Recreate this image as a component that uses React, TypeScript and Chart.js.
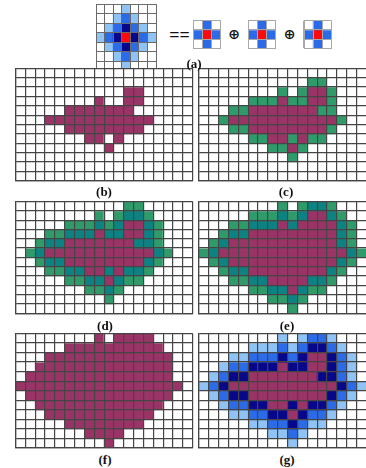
import React, { useEffect, useRef } from "react";
import { Chart, registerables } from "chart.js";

Chart.register(...registerables);

// ---------- data ----------
const GRID_COLUMNS = ["1", "2", "3", "4", "5", "6", "7", "8", "9", "10", "11", "12", "13", "14", "15", "16", "17", "18"];
const KERNEL_COLUMNS = ["1", "2", "3", "4", "5", "6", "7"];
const CROSS_COLUMNS = ["1", "2", "3"];

// ring level of every cell as shown in panel (g): 0 = seed region, 1..3 = rings, "." = empty
const LEVEL_MAP = [
  "........3.3223....",
  ".....3332321123...",
  "...3322212100123..",
  "..32211101100123..",
  ".321100000001123..",
  "32100000000000123.",
  ".321100000000123..",
  "..3221100101123...",
  "...33221101223....",
  ".....33221233.....",
  ".......3323.......",
  ".........3........",
];

// 7x7 kernel in (a): 0 = centre, 1..3 = distance
const KERNEL_MAP = [
  "...3...",
  "..323..",
  ".32123.",
  "3210123",
  ".32123.",
  "..323..",
  "...3...",
];

// 3x3 cross element in (a)
const CROSS_MAP = [".1.", "101", ".1."];

// ---------- colours ----------
const MAGENTA = "#9a3467";
const GREEN = "#2f9b6b";
const TEAL = "#0c8283";
const NAVY = "#07078c";
const BLUE = "#2c6be8";
const LIGHT = "#8fc3f6";
const RED = "#ff0a0a";

const PAL_B = { "0": MAGENTA };
const PAL_C = { "0": MAGENTA, "1": GREEN };
const PAL_D = { "0": MAGENTA, "1": TEAL, "2": GREEN };
const PAL_E = { "0": MAGENTA, "1": MAGENTA, "2": TEAL, "3": GREEN };
const PAL_F = { "0": MAGENTA, "1": MAGENTA, "2": MAGENTA, "3": MAGENTA };
const PAL_G = { "0": MAGENTA, "1": NAVY, "2": BLUE, "3": LIGHT };
const PAL_KERNEL = { "0": RED, "1": NAVY, "2": BLUE, "3": LIGHT };
const PAL_CROSS = { "0": RED, "1": BLUE };

type GridProps = {
  rows: string[];
  columns: string[];
  palette: Record<string, string>;
  left: number;
  top: number;
  width: number;
  height: number;
  lineColor: string;
  lineWidth: number;
};

function GridChart(p: GridProps) {
  const ref = useRef<HTMLCanvasElement | null>(null);
  const PAD = 2;
  const cx = Math.floor(p.left - PAD);
  const cy = Math.floor(p.top - PAD);
  const cw = Math.ceil(p.left + p.width + PAD) - cx;
  const ch = Math.ceil(p.top + p.height + PAD) - cy;

  useEffect(() => {
    const canvas = ref.current;
    if (!canvas) return;
    const datasets = p.rows.map((row, r) => ({
      label: `row ${r + 1}`,
      data: row.split("").map(() => 1),
      backgroundColor: row.split("").map((c) => p.palette[c] || "#ffffff"),
      borderWidth: 0,
      barPercentage: 1,
      categoryPercentage: 1,
    }));
    const chart = new Chart(canvas, {
      type: "bar",
      data: { labels: p.columns, datasets },
      options: {
        animation: false,
        responsive: false,
        maintainAspectRatio: false,
        events: [],
        layout: {
          padding: {
            left: p.left - cx,
            top: p.top - cy,
            right: cx + cw - (p.left + p.width),
            bottom: cy + ch - (p.top + p.height),
          },
        },
        plugins: {
          legend: { display: false },
          tooltip: { enabled: false },
          title: { display: false },
        },
        scales: {
          x: {
            type: "category",
            stacked: true,
            offset: true,
            ticks: { display: false },
            grid: {
              offset: true,
              color: p.lineColor,
              lineWidth: p.lineWidth,
              drawTicks: false,
              z: 1,
            },
            border: { display: true, color: p.lineColor, width: p.lineWidth, z: 1 },
          },
          y: {
            type: "linear",
            stacked: true,
            reverse: true,
            min: 0,
            max: p.rows.length,
            ticks: { display: false, stepSize: 1, maxTicksLimit: 100 },
            grid: {
              color: p.lineColor,
              lineWidth: p.lineWidth,
              drawTicks: false,
              z: 1,
            },
            border: { display: true, color: p.lineColor, width: p.lineWidth, z: 1 },
          },
        },
      } as any,
    });
    return () => chart.destroy();
  }, []);

  return (
    <canvas
      ref={ref}
      width={cw}
      height={ch}
      style={{ position: "absolute", left: cx, top: cy, width: cw, height: ch }}
    />
  );
}

const labelStyle = (x: number, y: number): React.CSSProperties => ({
  position: "absolute",
  left: x,
  top: y,
  transform: "translate(-50%, -50%)",
  fontFamily: "'Liberation Serif', 'DejaVu Serif', serif",
  fontWeight: "bold",
  fontSize: 13,
  lineHeight: 1,
  whiteSpace: "nowrap",
  color: "#111",
});

export default function App() {
  const GRID_W = 177.2;
  const LINE = "#454545";
  const LW = 1.2;
  const panels = [
    { key: "b", pal: PAL_B, left: 15.5, top: 68.3, h: 112.4 },
    { key: "c", pal: PAL_C, left: 199, top: 68.3, h: 112.4 },
    { key: "d", pal: PAL_D, left: 15.5, top: 201.5, h: 111.8 },
    { key: "e", pal: PAL_E, left: 199, top: 201.5, h: 111.8 },
    { key: "f", pal: PAL_F, left: 15.5, top: 333.4, h: 114.6 },
    { key: "g", pal: PAL_G, left: 199, top: 333.4, h: 114.6 },
  ];
  const labels = [
    { t: "(a)", x: 194, y: 63 },
    { t: "(b)", x: 104, y: 190.5 },
    { t: "(c)", x: 286, y: 190.5 },
    { t: "(d)", x: 105, y: 324.5 },
    { t: "(e)", x: 287, y: 324.5 },
    { t: "(f)", x: 105, y: 458.5 },
    { t: "(g)", x: 287, y: 458.5 },
  ];
  const crossLefts = [193.3, 248.3, 304];
  const plusStyle = { fontFamily: "'DejaVu Sans', sans-serif", fontSize: 14, fontWeight: "bold" as const };
  return (
    <div
      style={{
        position: "absolute",
        left: 0,
        top: 0,
        width: 366,
        height: 468,
        overflow: "hidden",
        background: "#ffffff",
      }}
    >
      <GridChart
        rows={KERNEL_MAP}
        columns={KERNEL_COLUMNS}
        palette={PAL_KERNEL}
        left={96}
        top={4}
        width={60}
        height={66.5}
        lineColor="#6a6a6a"
        lineWidth={1}
      />
      {crossLefts.map((l) => (
        <GridChart
          key={l}
          rows={CROSS_MAP}
          columns={CROSS_COLUMNS}
          palette={PAL_CROSS}
          left={l}
          top={20.7}
          width={27.5}
          height={27.6}
          lineColor="#a8a8a8"
          lineWidth={1}
        />
      ))}
      <div style={{ ...labelStyle(179.5, 34.5), fontSize: 18 }}>==</div>
      <div style={{ ...labelStyle(234, 34), ...plusStyle }}>⊕</div>
      <div style={{ ...labelStyle(289.5, 34), ...plusStyle }}>⊕</div>
      {panels.map((pn) => (
        <GridChart
          key={pn.key}
          rows={LEVEL_MAP}
          columns={GRID_COLUMNS}
          palette={pn.pal}
          left={pn.left}
          top={pn.top}
          width={GRID_W}
          height={pn.h}
          lineColor={LINE}
          lineWidth={LW}
        />
      ))}
      {labels.map((lb) => (
        <div key={lb.t} style={labelStyle(lb.x, lb.y)}>
          {lb.t}
        </div>
      ))}
    </div>
  );
}
